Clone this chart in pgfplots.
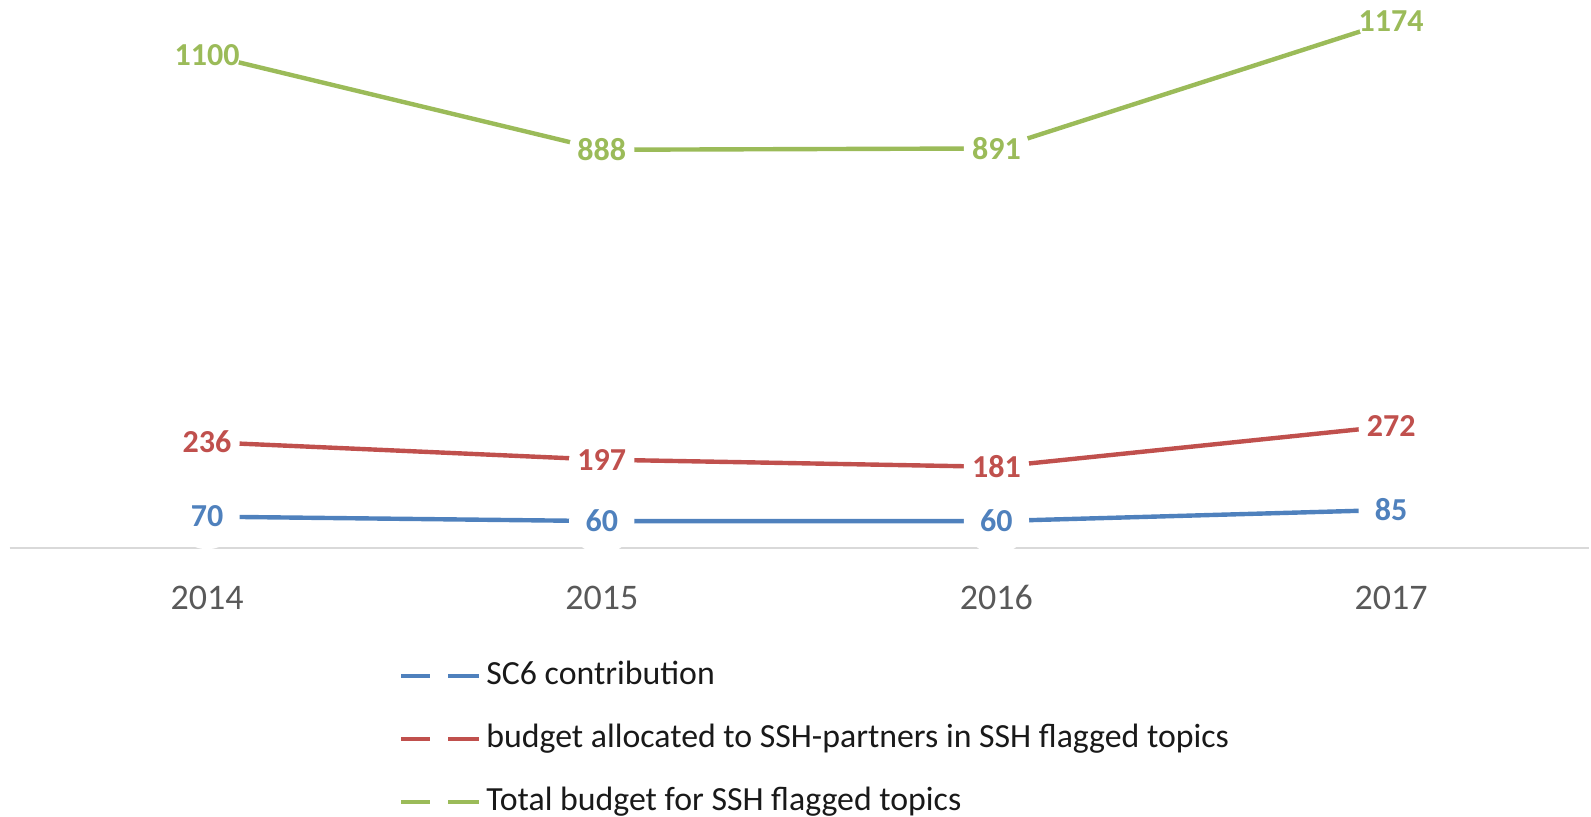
\documentclass[border=0pt]{standalone}
\usepackage{pgfplots}
\pgfplotsset{compat=1.18}
\usepackage{fontspec}
\setmainfont{Carlito}
\definecolor{cblue}{HTML}{4F81BD}
\definecolor{cred}{HTML}{C0504D}
\definecolor{cgreen}{HTML}{9BBB59}
\definecolor{tickgray}{HTML}{595959}
\definecolor{axgray}{HTML}{D9D9D9}
\begin{document}
\begin{tikzpicture}
\useasboundingbox (0,0) rectangle (795.5pt,408pt);
\begin{axis}[
  at={(4.85pt,134pt)}, anchor=south west,
  scale only axis,
  width=789.4pt, height=274pt,
  xmin=-0.5, xmax=3.5, ymin=0, ymax=1222,
  clip=false,
  hide y axis,
  axis x line=bottom,
  x axis line style={-, draw=axgray, line width=1.3pt},
  xtick={0,1,2,3},
  xticklabels={2014,2015,2016,2017},
  major tick length=0pt,
  xtick style={draw=none},
  xticklabel style={font=\fontsize{18}{18}\selectfont, text=tickgray, anchor=base, yshift=-30.5pt},
  /pgf/number format/.cd, 1000 sep={}, assume math mode=true, /pgfplots/.cd,
  every axis plot/.append style={line width=2.2pt, mark=*, mark size=15.8pt},
  nodes near coords,
  every node near coord/.append style={anchor=center, inner sep=0pt,
     font=\bfseries\fontsize{16}{16}\selectfont},
  legend image code/.code={\draw[#1, solid] (0pt,0pt)--(14.5pt,0pt) (23.5pt,0pt)--(39pt,0pt);},
  legend cell align=left,
  legend style={draw=none, fill=none, at={(0.2466,-0.2035)}, anchor=north west,
     inner sep=0pt, outer sep=0pt, row sep=15pt, column sep=2.5pt,
     nodes={inner sep=0pt, text height=12.5pt, text depth=4pt},
     font=\fontsize{16.9}{16.9}\selectfont, text=black!90},
]
\addplot[color=cblue, mark options={draw=white, fill=white, line width=1pt}, every node near coord/.append style={text=cblue}] coordinates {(0,70) (1,60) (2,60) (3,85)};
\addlegendentry{SC6 contribution}
\addplot[color=cred, mark options={draw=white, fill=white, line width=1pt}, every node near coord/.append style={text=cred}] coordinates {(0,236) (1,197) (2,181) (3,272)};
\addlegendentry{budget allocated to SSH-partners in SSH flagged topics}
\addplot[color=cgreen, mark options={draw=white, fill=white, line width=1pt}, every node near coord/.append style={text=cgreen}] coordinates {(0,1100) (1,888) (2,891) (3,1174)};
\addlegendentry{Total budget for SSH flagged topics}
\end{axis}
\end{tikzpicture}
\end{document}
